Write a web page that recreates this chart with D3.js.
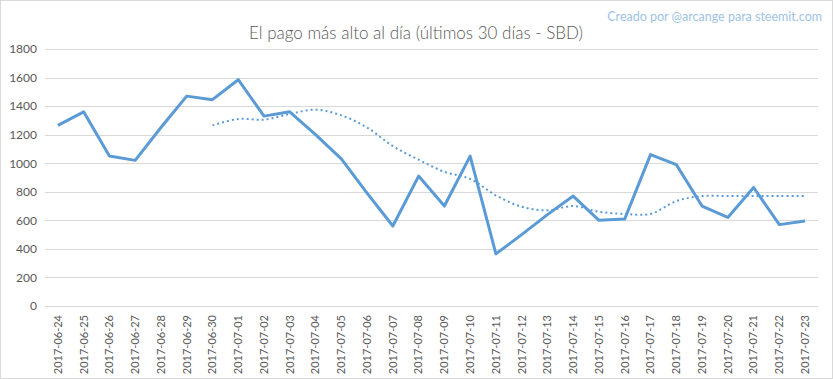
<!DOCTYPE html>
<html>
<head>
<meta charset="utf-8">
<script src="https://cdn.jsdelivr.net/npm/d3@7"></script>
<style>
  body { margin: 0; background: #fff; }
  svg { display: block; font-family: Lato, "Open Sans", sans-serif; }
</style>
</head>
<body>
<svg id="chart"></svg>
<script>
// days shown on the x axis
var days = ["2017-06-24", "2017-06-25", "2017-06-26", "2017-06-27", "2017-06-28", "2017-06-29",
    "2017-06-30", "2017-07-01", "2017-07-02", "2017-07-03", "2017-07-04", "2017-07-05",
    "2017-07-06", "2017-07-07", "2017-07-08", "2017-07-09", "2017-07-10", "2017-07-11",
    "2017-07-12", "2017-07-13", "2017-07-14", "2017-07-15", "2017-07-16", "2017-07-17",
    "2017-07-18", "2017-07-19", "2017-07-20", "2017-07-21", "2017-07-22", "2017-07-23"];

// highest payout per day (SBD)
var payout = [1265, 1360, 1050, 1020, 1250, 1470, 1445, 1585, 1330, 1360, 1200, 1030,
    790, 560, 910, 700, 1050, 365, 500, 640, 770, 600, 610, 1060, 990, 700, 620, 830, 570, 595];

// moving average trend line (starts on 06-30)
var trendDays = days.slice(6);
var trend = [1265, 1310, 1305, 1345, 1375, 1335, 1250, 1120, 1025, 940, 890, 775,
    695, 670, 700, 660, 645, 645, 735, 770, 770, 770, 770, 770];

var yTicks = [0, 200, 400, 600, 800, 1000, 1200, 1400, 1600, 1800];

var W = 833, H = 379;
var margin = {top: 49, right: 15, bottom: 73, left: 45},
    width = W - margin.left - margin.right,
    height = H - margin.top - margin.bottom;

var root = d3.select("#chart").attr("width", W).attr("height", H);

// outer border
root.append("rect")
    .attr("x", 0.5).attr("y", 0.5)
    .attr("width", W - 1).attr("height", H - 1)
    .attr("fill", "#fff").attr("stroke", "#d9d9d9");

// title
root.append("text")
    .attr("x", 416).attr("y", 39)
    .attr("text-anchor", "middle")
    .style("font-size", "17px")
    .style("font-weight", "300")
    .style("fill", "#595959")
    .text("El pago más alto al día (últimos 30 días - SBD)");

// credit
root.append("text")
    .attr("x", 822).attr("y", 21)
    .attr("text-anchor", "end")
    .style("font-size", "12.5px")
    .style("fill", "#9dc3e6")
    .text("Creado por @arcange para steemit.com");

var svg = root.append("g")
    .attr("transform", "translate(" + margin.left + "," + margin.top + ")");

var x = d3.scaleBand().domain(days).range([0, width]);
var y = d3.scaleLinear().domain([0, 1800]).range([height, 0]);

// grid lines
svg.append("g")
    .selectAll("line")
    .data(yTicks)
    .enter().append("line")
    .attr("x1", 0).attr("x2", width)
    .attr("y1", d => Math.round(y(d)) + 0.5)
    .attr("y2", d => Math.round(y(d)) + 0.5)
    .attr("stroke", "#d9d9d9");

// y axis labels
svg.append("g")
    .call(d3.axisLeft(y).tickValues(yTicks).tickFormat(d3.format("d")).tickSize(0).tickPadding(8))
    .call(g => g.select(".domain").remove())
    .selectAll("text")
    .style("font-size", "12px")
    .style("font-family", "Lato, 'Open Sans', sans-serif")
    .style("fill", "#595959");

// x axis labels
var xAxis = svg.append("g")
    .attr("transform", "translate(0," + height + ")")
    .call(d3.axisBottom(x).tickSize(0));
xAxis.select(".domain").remove();
xAxis.selectAll("text")
    .attr("transform", "rotate(-90)")
    .attr("text-anchor", "end")
    .attr("x", -9).attr("y", 0).attr("dy", "0.35em")
    .style("font-size", "11px")
    .style("font-family", "Lato, 'Open Sans', sans-serif")
    .style("fill", "#595959");

var cx = d => x(d) + x.bandwidth() / 2;

// trend (dotted, smoothed)
svg.append("path")
    .datum(trend)
    .attr("fill", "none")
    .attr("stroke", "#5b9bd5")
    .attr("stroke-width", 2)
    .attr("stroke-dasharray", "2,3")
    .attr("d", d3.line()
        .x((d, i) => cx(trendDays[i]))
        .y(d => y(d))
        .curve(d3.curveCatmullRom.alpha(0.5)));

// main line
svg.append("path")
    .datum(payout)
    .attr("fill", "none")
    .attr("stroke", "#5b9bd5")
    .attr("stroke-width", 3)
    .attr("stroke-linejoin", "round")
    .attr("d", d3.line()
        .x((d, i) => cx(days[i]))
        .y(d => y(d)));
</script>
</body>
</html>
